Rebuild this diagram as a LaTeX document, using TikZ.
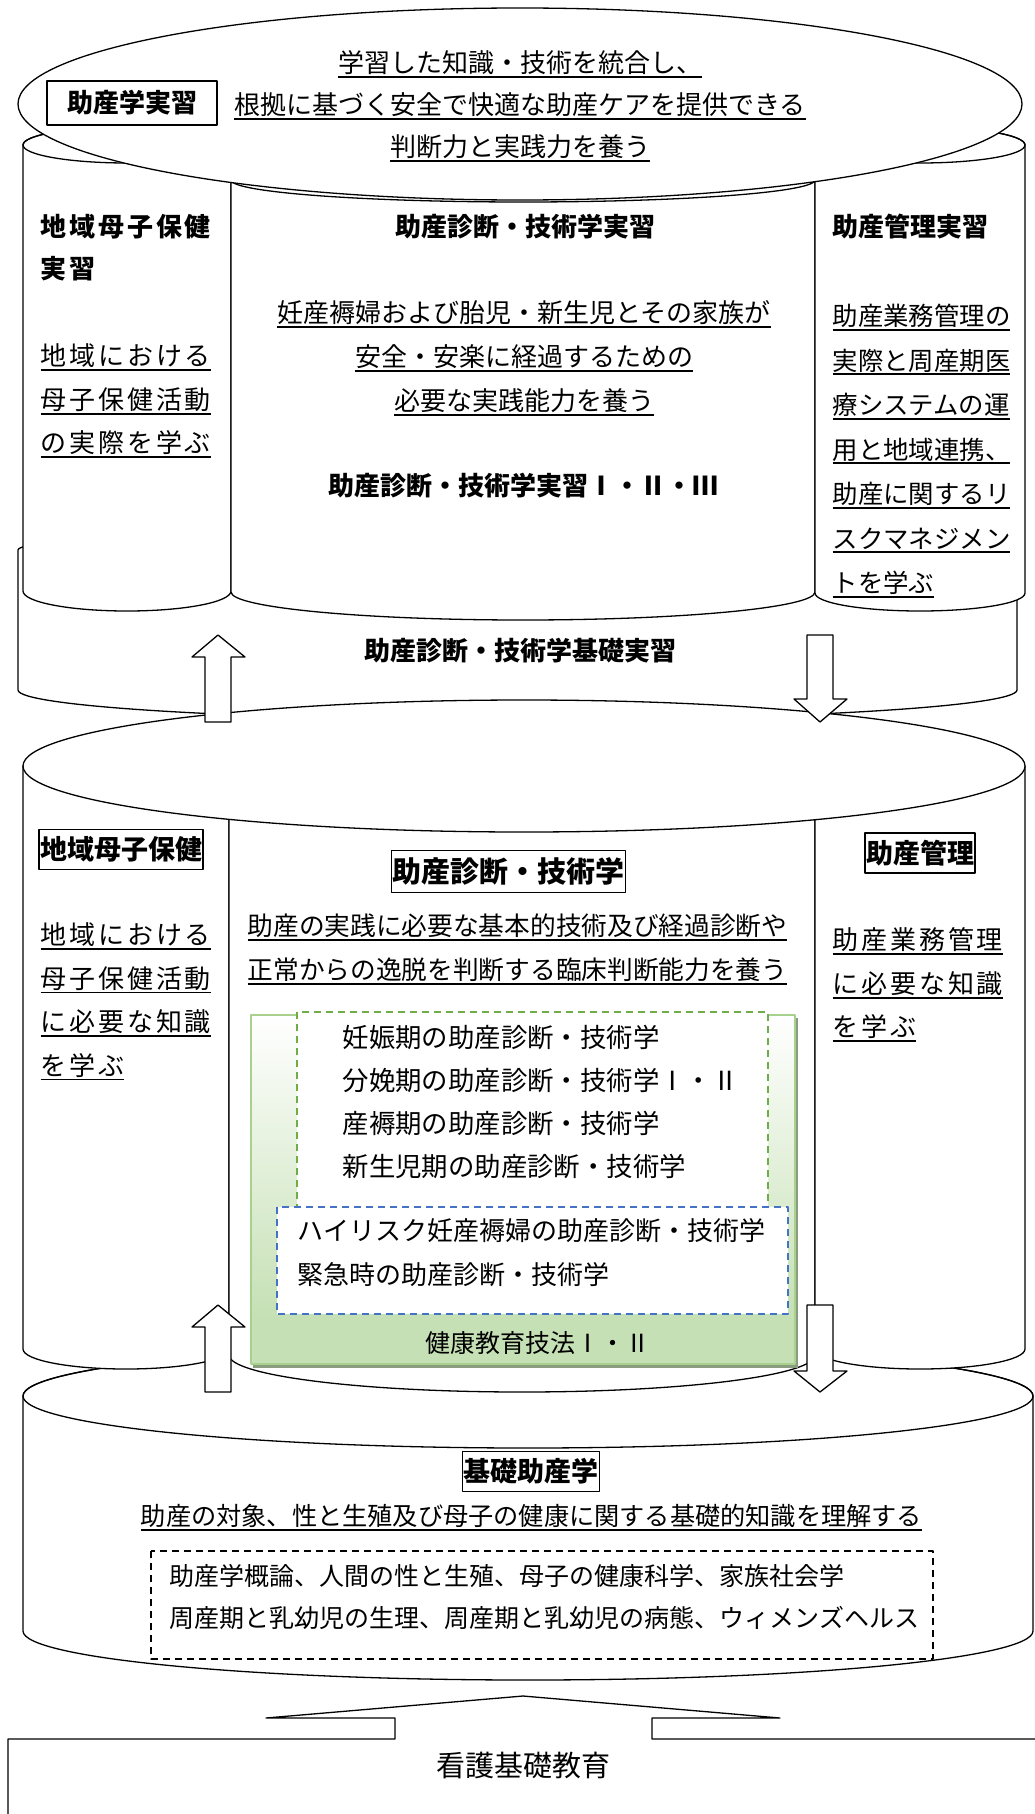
\documentclass[tikz,border=0pt]{standalone}
\usepackage{fontspec}
\setmainfont{Noto Sans CJK JP}
\newfontfamily\widefont[LetterSpace=11]{Noto Sans CJK JP}
\newcommand\udl[1]{\setbox0\hbox{#1}\rlap{\smash{\rule[-0.2em]{\wd0}{1.8pt}}}\box0}
\definecolor{grnline}{HTML}{A9D18E}
\definecolor{grnfill}{HTML}{C5E0B4}
\definecolor{grndash}{HTML}{70AD47}
\definecolor{bludash}{HTML}{4472C4}

\begin{document}
\begin{tikzpicture}[
		x=1pt, y=-1pt,
		line width=1.3pt, line join=round,
		txt/.style={inner sep=0pt, font=\fontsize{26}{44}\selectfont},
		wtxt/.style={inner sep=0pt, font=\widefont\fontsize{26}{43.5}\selectfont},
		hd/.style={inner sep=0pt, font=\bfseries\fontsize{26}{42}\selectfont},
		boxhd/.style={draw, inner xsep=1pt, inner ysep=7pt, font=\bfseries\fontsize{27}{30}\selectfont},
		dashbox/.style={line width=1.8pt, dash pattern=on 7pt off 5pt, fill=white}]

		\useasboundingbox (0,0) rectangle (1035,1814);

		\draw (1045,1739) -- (652,1739) -- (652,1718) -- (780,1718) -- (523,1696) -- (266,1718)
			-- (395,1718) -- (395,1739) -- (8,1739) -- (8,1830);

		\draw[fill=white] (23,1396) -- (23,1631) arc[start angle=180, end angle=360, x radius=505pt, y radius=49pt]
			-- (1033,1396) arc[start angle=0, end angle=180, x radius=505pt, y radius=52pt] -- cycle;
		\draw (528,1396) ellipse[x radius=505pt, y radius=52pt];

		\draw[fill=white] (18,550) -- (18,690) arc[start angle=180, end angle=360, x radius=499.5pt, y radius=30pt]
			-- (1017,550) arc[start angle=0, end angle=180, x radius=499.5pt, y radius=22pt] -- cycle;

		\draw[fill=white] (23,766) -- (23,1349) arc[start angle=180, end angle=360, x radius=103pt, y radius=20pt] -- (229,766) -- cycle;
		\draw[fill=white] (229,766) -- (229,1355) arc[start angle=180, end angle=360, x radius=293pt, y radius=37pt] -- (815,766) -- cycle;
		\draw[fill=white] (815,766) -- (815,1349) arc[start angle=180, end angle=360, x radius=105pt, y radius=20pt] -- (1025,766) -- cycle;
		\draw[fill=white] (524,766) ellipse[x radius=501pt, y radius=66pt];

		\draw[fill=white] (23,145) -- (23,591) arc[start angle=180, end angle=360, x radius=104pt, y radius=20pt]
			-- (231,145) arc[start angle=0, end angle=180, x radius=104pt, y radius=18pt] -- cycle;
		\draw (127,145) ellipse[x radius=104pt, y radius=18pt];
		\draw[fill=white] (231,180) -- (231,592) arc[start angle=180, end angle=360, x radius=292pt, y radius=28pt]
			-- (815,180) arc[start angle=0, end angle=180, x radius=292pt, y radius=22pt] -- cycle;
		\draw (523,180) ellipse[x radius=292pt, y radius=22pt];
		\draw[fill=white] (815,145) -- (815,593) arc[start angle=180, end angle=360, x radius=105pt, y radius=18pt]
			-- (1025,145) arc[start angle=0, end angle=180, x radius=105pt, y radius=18pt] -- cycle;
		\draw (920,145) ellipse[x radius=105pt, y radius=18pt];
		\draw[fill=white] (520,104) ellipse[x radius=502pt, y radius=96pt];

		\draw[fill=white] (205,722) -- (205,657) -- (192,657) -- (218,635) -- (245,657) -- (231,657) -- (231,722) -- cycle;
		\draw[fill=white] (807,635) -- (833,635) -- (833,699) -- (847,699) -- (820,722) -- (794,699) -- (807,699) -- cycle;
		\draw[fill=white] (205,1392) -- (205,1327) -- (192,1327) -- (218,1305) -- (245,1327) -- (231,1327) -- (231,1392) -- cycle;
		\draw[fill=white] (807,1305) -- (833,1305) -- (833,1371) -- (847,1371) -- (820,1392) -- (794,1371) -- (807,1371) -- cycle;

		\fill[black!30!grnfill] (253,1018) rectangle (798,1368);
		\shade[top color=white, bottom color=grnfill] (251,1015) rectangle (795,1320);
		\fill[grnfill] (251,1319) rectangle (795,1364);
		\draw[grnline, line width=1.6pt] (251,1015) rectangle (795,1364);
		\draw[dashbox, draw=grndash] (297,1012) rectangle (768,1207);
		\draw[dashbox, draw=bludash] (277,1207) rectangle (788,1314);
		\draw[dashbox] (151,1551) rectangle (933,1659);

		\node[draw, line width=1.2pt, hd, minimum width=170pt, minimum height=44pt] (jsbox) at (132,103) {助産学実習};
		\node[txt, align=center, font=\fontsize{26}{42}\selectfont] (jsgoal) at (520,105)
			{\udl{学習した知識・技術を統合し、}\\ \udl{根拠に基づく安全で快適な助産ケアを提供できる}\\ \udl{判断力と実践力を養う}};

		\node[hd, font=\widefont\bfseries\fontsize{26}{42}\selectfont, align=left, anchor=west] (chiikiJ) at (40,248) {地域母子保健\\実習};
		\node[wtxt, align=left, anchor=west] (chiikiJgoal) at (40,399.5)
			{\udl{地域における}\\ \udl{母子保健活動}\\ \udl{の実際を学ぶ}};
		\node[hd] (shindanJ) at (525,227) {助産診断・技術学実習};
		\node[txt, align=center] (shindanJgoal) at (524,357)
			{\udl{妊産褥婦および胎児・新生児とその家族が}\\ \udl{安全・安楽に経過するための}\\ \udl{必要な実践能力を養う}};
		\node[hd] (shindanJ3) at (523,486) {助産診断・技術学実習Ⅰ・Ⅱ・Ⅲ};
		\node[hd, anchor=west] (kanriJ) at (832,227) {助産管理実習};
		\node[txt, align=left, anchor=west, font=\fontsize{25.4}{44.5}\selectfont] (kanriJgoal) at (832,449.5)
			{\udl{助産業務管理の}\\ \udl{実際と周産期医}\\ \udl{療システムの運}\\ \udl{用と地域連携、}\\
			 \udl{助産に関するリ}\\ \udl{スクマネジメン}\\ \udl{トを学ぶ}};
		\node[hd] (kiso) at (520,651) {助産診断・技術学基礎実習};

		\node[boxhd] (chiiki) at (121,849.5) {地域母子保健};
		\node[wtxt, align=left, anchor=west] (chiikigoal) at (40,1000)
			{\udl{地域における}\\ \udl{母子保健活動}\\ \udl{に必要な知識}\\ \udl{を学ぶ}};
		\node[boxhd, font=\bfseries\fontsize{29}{32}\selectfont] (shindan) at (508.5,871.5) {助産診断・技術学};
		\node[txt, align=left, anchor=west, font=\fontsize{25.7}{44}\selectfont] (shindangoal) at (247,948)
			{\udl{助産の実践に必要な基本的技術及び経過診断や}\\ \udl{正常からの逸脱を判断する臨床判断能力を養う}};
		\node[boxhd] (kanri) at (920,853) {助産管理};
		\node[wtxt, align=left, anchor=west] (kanrigoal) at (832,983.5)
			{\udl{助産業務管理}\\ \udl{に必要な知識}\\ \udl{を学ぶ}};
		\node[txt, align=left, anchor=west, font=\fontsize{26.4}{43.3}\selectfont] (shoki) at (342,1102)
			{妊娠期の助産診断・技術学\\ 分娩期の助産診断・技術学Ⅰ・Ⅱ\\ 産褥期の助産診断・技術学\\ 新生児期の助産診断・技術学};
		\node[txt, align=left, anchor=west] (highrisk) at (297,1253)
			{ハイリスク妊産褥婦の助産診断・技術学\\ 緊急時の助産診断・技術学};
		\node[txt, font=\fontsize{25}{30}\selectfont] (kenkou) at (538,1343) {健康教育技法Ⅰ・Ⅱ};

		\node[boxhd] (kisojs) at (531,1471.5) {基礎助産学};
		\node[txt, font=\fontsize{25.2}{30}\selectfont] (kisogoal) at (531.5,1516)
			{\udl{助産の対象、性と生殖及び母子の健康に関する基礎的知識を理解する}};
		\node[txt, align=left, anchor=west, font=\fontsize{25}{42}\selectfont] (kamoku) at (169,1597)
			{助産学概論、人間の性と生殖、母子の健康科学、家族社会学\\ 周産期と乳幼児の生理、周産期と乳幼児の病態、ウィメンズヘルス};
		\node[txt, font=\fontsize{29}{32}\selectfont] (kango) at (523,1765) {看護基礎教育};

\end{tikzpicture}
\end{document}
